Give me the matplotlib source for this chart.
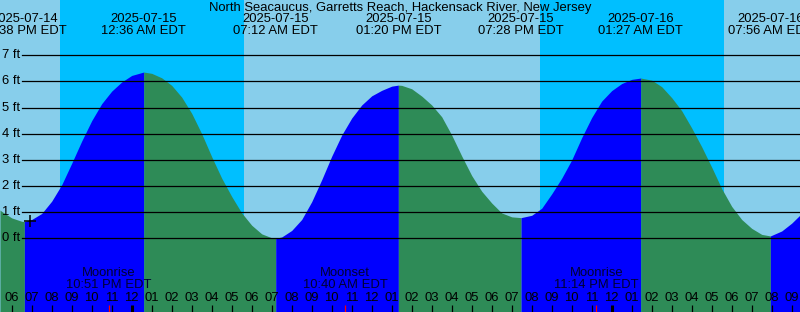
import numpy as np
import matplotlib.pyplot as plt
from matplotlib import transforms

# Tide heights (ft), time = hours since 2025-07-14 00:00 EDT
tide_times = [17.415, 17.5, 18.0, 18.5, 18.633, 19.0, 19.5, 20.0, 20.5, 21.0, 21.5, 22.0, 22.5, 23.0, 23.5, 24.0,
              24.6, 25.0, 25.5, 26.0, 26.5, 27.0, 27.5, 28.0, 28.5, 29.0, 29.5, 30.0, 30.5, 31.0,
              31.2, 31.5, 32.0, 32.5, 33.0, 33.5, 34.0, 34.5, 35.0, 35.5, 36.0, 36.5, 37.0,
              37.333, 37.5, 38.0, 38.5, 39.0, 39.5, 40.0, 40.5, 41.0, 41.5, 42.0, 42.5, 43.0,
              43.467, 44.0, 44.5, 45.0, 45.5, 46.0, 46.5, 47.0, 47.5, 48.0, 48.5, 49.0,
              49.45, 50.0, 50.5, 51.0, 51.5, 52.0, 52.5, 53.0, 53.5, 54.0, 54.5, 55.0, 55.5,
              55.933, 56.5, 57.0, 57.415]
tide_heights = [1.08, 1.03, 0.78, 0.65, 0.64, 0.72, 0.95, 1.42, 2.05, 2.87, 3.72, 4.5, 5.15, 5.63, 5.98, 6.23,
                6.36, 6.31, 6.14, 5.85, 5.4, 4.78, 4.0, 3.12, 2.3, 1.6, 0.97, 0.5, 0.17, 0.02,
                0.0, 0.05, 0.3, 0.72, 1.4, 2.24, 3.14, 3.95, 4.6, 5.1, 5.45, 5.66, 5.82,
                5.86, 5.85, 5.72, 5.44, 5.1, 4.65, 3.95, 3.15, 2.4, 1.8, 1.35, 0.97, 0.82,
                0.79, 0.88, 1.15, 1.7, 2.3, 3.0, 3.85, 4.62, 5.25, 5.65, 5.92, 6.08,
                6.13, 6.05, 5.8, 5.38, 4.88, 4.22, 3.5, 2.72, 1.9, 1.22, 0.72, 0.38, 0.15,
                0.09, 0.28, 0.58, 0.89]

# high / low tides
extreme_times = [18.633, 24.6, 31.2, 37.333, 43.467, 49.45, 55.933]
extreme_dates = ["2025-07-14", "2025-07-15", "2025-07-15", "2025-07-15", "2025-07-15", "2025-07-16", "2025-07-16"]
extreme_clock = ["06:38 PM EDT", "12:36 AM EDT", "07:12 AM EDT", "01:20 PM EDT", "07:28 PM EDT",
                 "01:27 AM EDT", "07:56 AM EDT"]

# night (sunset -> sunrise)
sunset_times = [20.417, 44.417]
sunrise_times = [29.6, 53.617]

# moon events
moon_times = [22.85, 34.667, 47.233]
moon_names = ["Moonrise", "Moonset", "Moonrise"]
moon_clock = ["10:51 PM EDT", "10:40 AM EDT", "11:14 PM EDT"]

now_time = 18.915
now_height = 0.66

ft_levels = [0, 1, 2, 3, 4, 5, 6, 7]
hour_ticks = list(range(18, 58))
midnights = [24, 48]

plt.rcParams['font.family'] = ['Liberation Sans', 'DejaVu Sans']
FS = 9.4
W, H = 800, 312
fig = plt.figure(figsize=(W / 100, H / 100), dpi=100)
ax = fig.add_axes([0, 0, 1, 1])
ax.set_axis_off()

t0, t1 = 17.415, 57.415
px_per_ft = 26.14
zero_px = 238.3
ax.set_xlim(t0, t1)
ax.set_ylim((zero_px - H) / px_per_ft, zero_px / px_per_ft)


def fy(py):
    # pixel row -> axes fraction
    return 1 - py / H


xa = transforms.blended_transform_factory(ax.transData, ax.transAxes)
ya = transforms.blended_transform_factory(ax.transAxes, ax.transData)

# day / night background
ax.axvspan(t0, t1, color='#87CEEB', lw=0, zorder=0)
for s, r in zip(sunset_times, sunrise_times):
    ax.axvspan(s, r, color='#00BFFF', lw=0, zorder=0)

# tide curve, blue when rising, green when falling
t = np.array(tide_times)
h = np.array(tide_heights)
bounds = [t0] + extreme_times + [t1]
for a, b in zip(bounds[:-1], bounds[1:]):
    m = (t >= a - 1e-6) & (t <= b + 1e-6)
    rising = h[m][-1] > h[m][0]
    ax.fill_between(t[m], h[m], -5, color='#0000FF' if rising else '#2E8B57', lw=0, zorder=1)

# height grid
for lv in ft_levels:
    ax.axhline(lv, xmin=22 / W, xmax=1, color='black', lw=0.9, zorder=2)
    ax.text(20.5 / W, lv, f"{lv} ft", transform=ya, ha='right', va='center', fontsize=FS, zorder=3)

ax.plot([now_time], [now_height], marker='+', color='black', ms=9, mew=1.1, zorder=3)

# top labels
ax.text(0.5, fy(8), "North Seacaucus, Garretts Reach, Hackensack River, New Jersey",
        transform=ax.transAxes, ha='center', va='center', fontsize=FS)
for et, d, c in zip(extreme_times, extreme_dates, extreme_clock):
    ax.text(et, fy(19.5), d, transform=xa, ha='center', va='center', fontsize=FS)
    ax.text(et, fy(31.5), c, transform=xa, ha='center', va='center', fontsize=FS)

# hour axis
for hr in hour_ticks:
    lab = "%02d" % ((hr - 1) % 12 + 1)
    ax.text(hr, fy(298), lab, transform=xa, ha='center', va='center', fontsize=FS, zorder=3)
    ax.plot([hr, hr], [fy(304.5), 0], transform=xa, color='black',
            lw=2.2 if hr in midnights else 0.9, zorder=3, solid_capstyle='butt')

for mt, mn, mc in zip(moon_times, moon_names, moon_clock):
    ax.plot([mt, mt], [fy(304.5), 0], transform=xa, color='red', lw=0.9, zorder=3, solid_capstyle='butt')
    ax.text(mt, fy(273.5), mn, transform=xa, ha='center', va='center', fontsize=FS, color='#000033', zorder=3)
    ax.text(mt, fy(285.5), mc, transform=xa, ha='center', va='center', fontsize=FS, color='#000033', zorder=3)

fig.savefig("out.png", dpi=100)
